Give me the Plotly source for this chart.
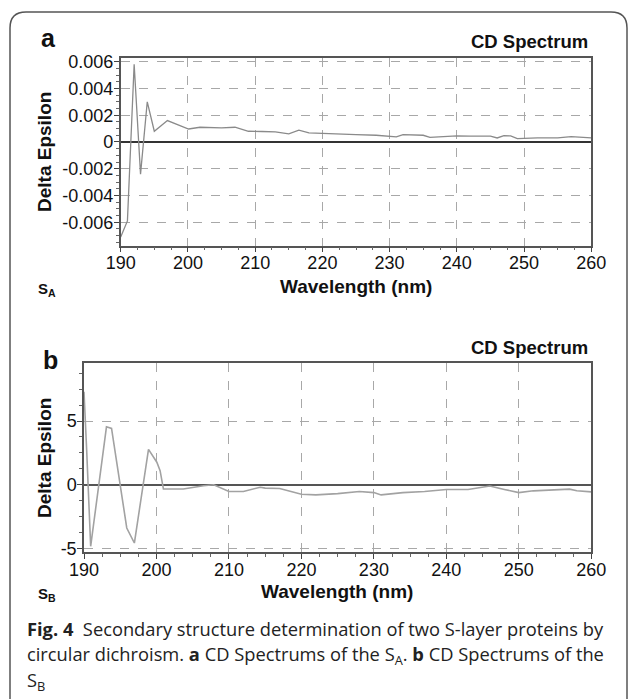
import plotly.graph_objects as go

# ---- data ----
wl_a = [190.0, 191.0, 192.0, 192.95, 193.95, 195.0, 196.95, 198.5, 200.1, 201.8,
        203.0, 205.0, 207.0, 209.0, 211.0, 213.0, 215.0, 216.5, 218.0, 220.0,
        222.0, 225.0, 228.0, 230.0, 231.0, 232.0, 235.0, 236.0, 238.0, 240.0,
        242.0, 245.0, 246.0, 247.0, 248.0, 249.0, 252.0, 255.0, 257.0, 260.0]
de_a = [-0.0071, -0.0059, 0.0058, -0.0024, 0.0030, 0.0008, 0.0016, 0.0013, 0.00097, 0.0011,
        0.00108, 0.00105, 0.0011, 0.0008, 0.00078, 0.00075, 0.0006, 0.00088, 0.00068, 0.00063,
        0.0006, 0.00055, 0.0005, 0.00045, 0.00038, 0.00055, 0.0005, 0.00035, 0.00042, 0.00045,
        0.00043, 0.00043, 0.0003, 0.00048, 0.00045, 0.00025, 0.0003, 0.0003, 0.0004, 0.0003]

wl_b = [190.0, 190.15, 190.37, 190.92, 193.1, 193.8, 195.9, 196.95, 198.9, 200.05,
        200.5, 200.96, 203.7, 206.5, 207.9, 210.0, 212.0, 214.3, 215.0, 217.0,
        220.0, 222.0, 225.0, 228.0, 230.0, 231.0, 234.0, 237.0, 240.0, 243.0,
        246.0, 248.0, 250.0, 252.0, 255.0, 257.0, 258.0, 260.0]
de_b = [7.3, 5.0, 2.7, -4.84, 4.55, 4.42, -3.4, -4.58, 2.78, 1.77,
        1.1, -0.34, -0.34, -0.08, 0.0, -0.53, -0.53, -0.2, -0.27, -0.3,
        -0.75, -0.8, -0.7, -0.53, -0.62, -0.8, -0.62, -0.53, -0.37, -0.37,
        -0.1, -0.37, -0.62, -0.48, -0.37, -0.35, -0.48, -0.56]

x_ticks = [190, 200, 210, 220, 230, 240, 250, 260]
ya_ticks = [-0.006, -0.004, -0.002, 0, 0.002, 0.004, 0.006]
ya_text = ["-0.006", "-0.004", "-0.002", "0", "0.002", "0.004", "0.006"]
yb_ticks = [-5, 0, 5]
yb_text = ["-5", "0", "5"]

W, H = 629, 699
def px(x):
    return x / W
def py(y):
    return 1 - y / H

fig = go.Figure()
fig.add_trace(go.Scatter(x=wl_a, y=de_a, mode="lines", xaxis="x", yaxis="y",
                         line=dict(color="#8a8a8a", width=1.3), showlegend=False))
fig.add_trace(go.Scatter(x=wl_b, y=de_b, mode="lines", xaxis="x2", yaxis="y2",
                         line=dict(color="#a2a2a2", width=1.6), showlegend=False))

tickfont = dict(family="Liberation Sans, Arial", size=18, color="#111")
common_x = dict(range=[190, 260], tickvals=x_ticks, ticks="outside", ticklen=5,
                tickcolor="#444", showline=True, linecolor="#555", linewidth=1.5,
                mirror=True, showgrid=True, gridcolor="#a8a8a8", griddash="dash",
                gridwidth=1, zeroline=False, tickfont=tickfont, automargin=False,
                ticklabelstandoff=-5,
                minor=dict(dtick=2.5, ticks="outside", ticklen=3, tickcolor="#666",
                           showgrid=False))
common_y = dict(ticks="outside", ticklen=5, tickcolor="#444", showline=True,
                linecolor="#555", linewidth=1.5, mirror=True, showgrid=True,
                gridcolor="#a8a8a8", griddash="dash", gridwidth=1, zeroline=True,
                zerolinewidth=1.6, tickfont=tickfont, automargin=False,
                ticklabelstandoff=-3)

fig.update_layout(
    template="none",
    width=W, height=H, margin=dict(l=0, r=0, t=0, b=0, pad=0), autosize=False,
    paper_bgcolor="white", plot_bgcolor="white",
    xaxis=dict(domain=[px(120.7), px(591.3)], anchor="y", **common_x),
    yaxis=dict(domain=[py(245.7), py(58.3)], anchor="x", range=[-0.00775, 0.00625],
               tickvals=ya_ticks, ticktext=ya_text, zerolinecolor="#333",
               minor=dict(dtick=0.0005, ticks="outside", ticklen=3, tickcolor="#666",
                          showgrid=False), **common_y),
    xaxis2=dict(domain=[px(84), px(591.3)], anchor="y2", **common_x),
    yaxis2=dict(domain=[py(552.3), py(363.3)], anchor="x2", range=[-5.31, 9.54],
                tickvals=yb_ticks, ticktext=yb_text, zerolinecolor="#555",
                minor=dict(dtick=1.25, ticks="outside", ticklen=3, tickcolor="#666",
                           showgrid=False), **common_y),
)

ann = []
def add(text, x, y, size, xanchor="center", angle=0, bold=True, family="Liberation Sans, Arial", color="#111"):
    ann.append(dict(text=(f"<b>{text}</b>" if bold else text), x=px(x), y=py(y),
                    xref="paper", yref="paper", showarrow=False, xanchor=xanchor,
                    yanchor="middle", textangle=angle,
                    font=dict(family=family, size=size, color=color)))

# panel a
add("a", 48, 38, 25)
add("CD Spectrum", 590, 42, 18.5, xanchor="right")
add("Wavelength (nm)", 356, 286, 19)
add("Delta Epsilon", 44, 152, 19, angle=-90)
add("S<sub>A</sub>", 36, 289, 15, xanchor="left")
# panel b
add("b", 50, 360, 25)
add("CD Spectrum", 590, 347, 18.5, xanchor="right")
add("Wavelength (nm)", 337, 591, 19)
add("Delta Epsilon", 44, 458, 19, angle=-90)
add("S<sub>B</sub>", 36, 594, 15, xanchor="left")

# caption
cap_font = "Open Sans"
add("<b>Fig. 4</b>  Secondary structure determination of two S-layer proteins by",
    25, 628, 18.3, xanchor="left", bold=False, family=cap_font, color="#222")
add("circular dichroism. <b>a</b> CD Spectrums of the S<sub>A</sub>. <b>b</b> CD Spectrums of the",
    25, 655, 18.3, xanchor="left", bold=False, family=cap_font, color="#222")
add("S<sub>B</sub>", 25, 681, 18.3, xanchor="left", bold=False, family=cap_font, color="#222")
fig.update_layout(annotations=ann)

# rounded frame
L, T, R, B, r = 10, 12, 627, 712, 16
rx, ry = r / W, r / H
path = (f"M {px(L)},{py(B)} L {px(L)},{py(T) - ry} "
        f"Q {px(L)},{py(T)} {px(L) + rx},{py(T)} "
        f"L {px(R) - rx},{py(T)} Q {px(R)},{py(T)} {px(R)},{py(T) - ry} "
        f"L {px(R)},{py(B)}")
fig.add_shape(type="path", path=path, xref="paper", yref="paper",
              line=dict(color="#555", width=1.5), layer="above")

fig.write_html("out.html", config={"displayModeBar": False},
               post_script="document.body.style.margin='0';document.body.style.overflow='hidden';")
